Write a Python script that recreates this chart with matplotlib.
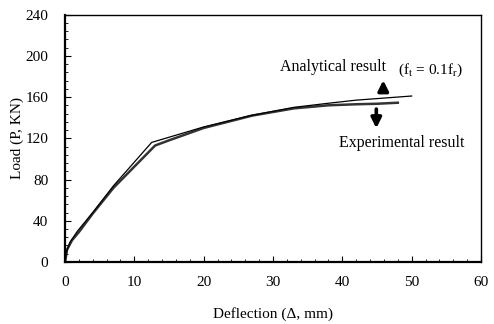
import numpy as np
import matplotlib.pyplot as plt

plt.rcParams['font.family'] = ['Liberation Serif', 'DejaVu Serif']
plt.rcParams['mathtext.fontset'] = 'stix'

# analytical curve (ft = 0.1fr)
ana_x = [0, 0.2, 0.7, 1.8, 4.0, 7.0, 12.5, 14, 20, 26.7, 33, 38, 42, 46, 50]
ana_y = [0, 10, 19, 30, 48, 74, 116, 119, 131, 142, 150, 154, 157, 159, 161]

# experimental curve
exp_x = [0, 0.3, 1.0, 2.0, 4.0, 7, 13, 15, 20, 27, 33, 38, 42, 45, 48]
exp_y = [0, 12, 21, 29, 47, 72, 113, 118, 130, 142, 149, 152, 153, 153.5, 154.5]

xticks = [0, 10, 20, 30, 40, 50, 60]
yticks = [0, 40, 80, 120, 160, 200, 240]

fig = plt.figure(figsize=(4.94, 3.24), dpi=100)
ax = fig.add_axes([0.1316, 0.1914, 0.8421, 0.7636])

ax.plot(exp_x, exp_y, color='#333333', lw=1.8)
ax.plot(ana_x, ana_y, color='black', lw=0.9)

ax.set_xlim(0, 60)
ax.set_ylim(0, 240)
ax.set_xticks(xticks)
ax.set_yticks(yticks)
ax.set_xticks(np.arange(0, 61, 2), minor=True)
ax.set_yticks(np.arange(0, 241, 8), minor=True)
ax.tick_params(which='both', direction='in', labelsize=11, top=False, right=False)
ax.tick_params(which='major', length=4)
ax.tick_params(axis='x', which='major', pad=10)
ax.tick_params(axis='y', which='major', pad=12)
ax.tick_params(which='minor', length=2.5)
for s in ax.spines.values():
    s.set_linewidth(1.0)
ax.spines['bottom'].set_linewidth(1.6)
ax.spines['left'].set_linewidth(1.6)

ax.set_xlabel('Deflection (Δ, mm)', fontsize=11, labelpad=13)
ax.set_ylabel('Load (P, KN)', fontsize=11, labelpad=1)

ax.text(31.0, 189, 'Analytical result', fontsize=11.5, va='center')
ax.text(48.0, 186, r'(f$_{\rm t}$ = 0.1f$_{\rm r}$)', fontsize=11, va='center')
ax.text(39.5, 115, 'Experimental result', fontsize=11.5, va='center')

ax.annotate('', xy=(45.9, 179), xytext=(45.9, 163),
            arrowprops=dict(arrowstyle='-|>', lw=2.6, color='black', mutation_scale=15))
ax.annotate('', xy=(44.9, 127), xytext=(44.9, 151),
            arrowprops=dict(arrowstyle='-|>', lw=2.6, color='black', mutation_scale=15))

fig.savefig('out.png', dpi=100)
